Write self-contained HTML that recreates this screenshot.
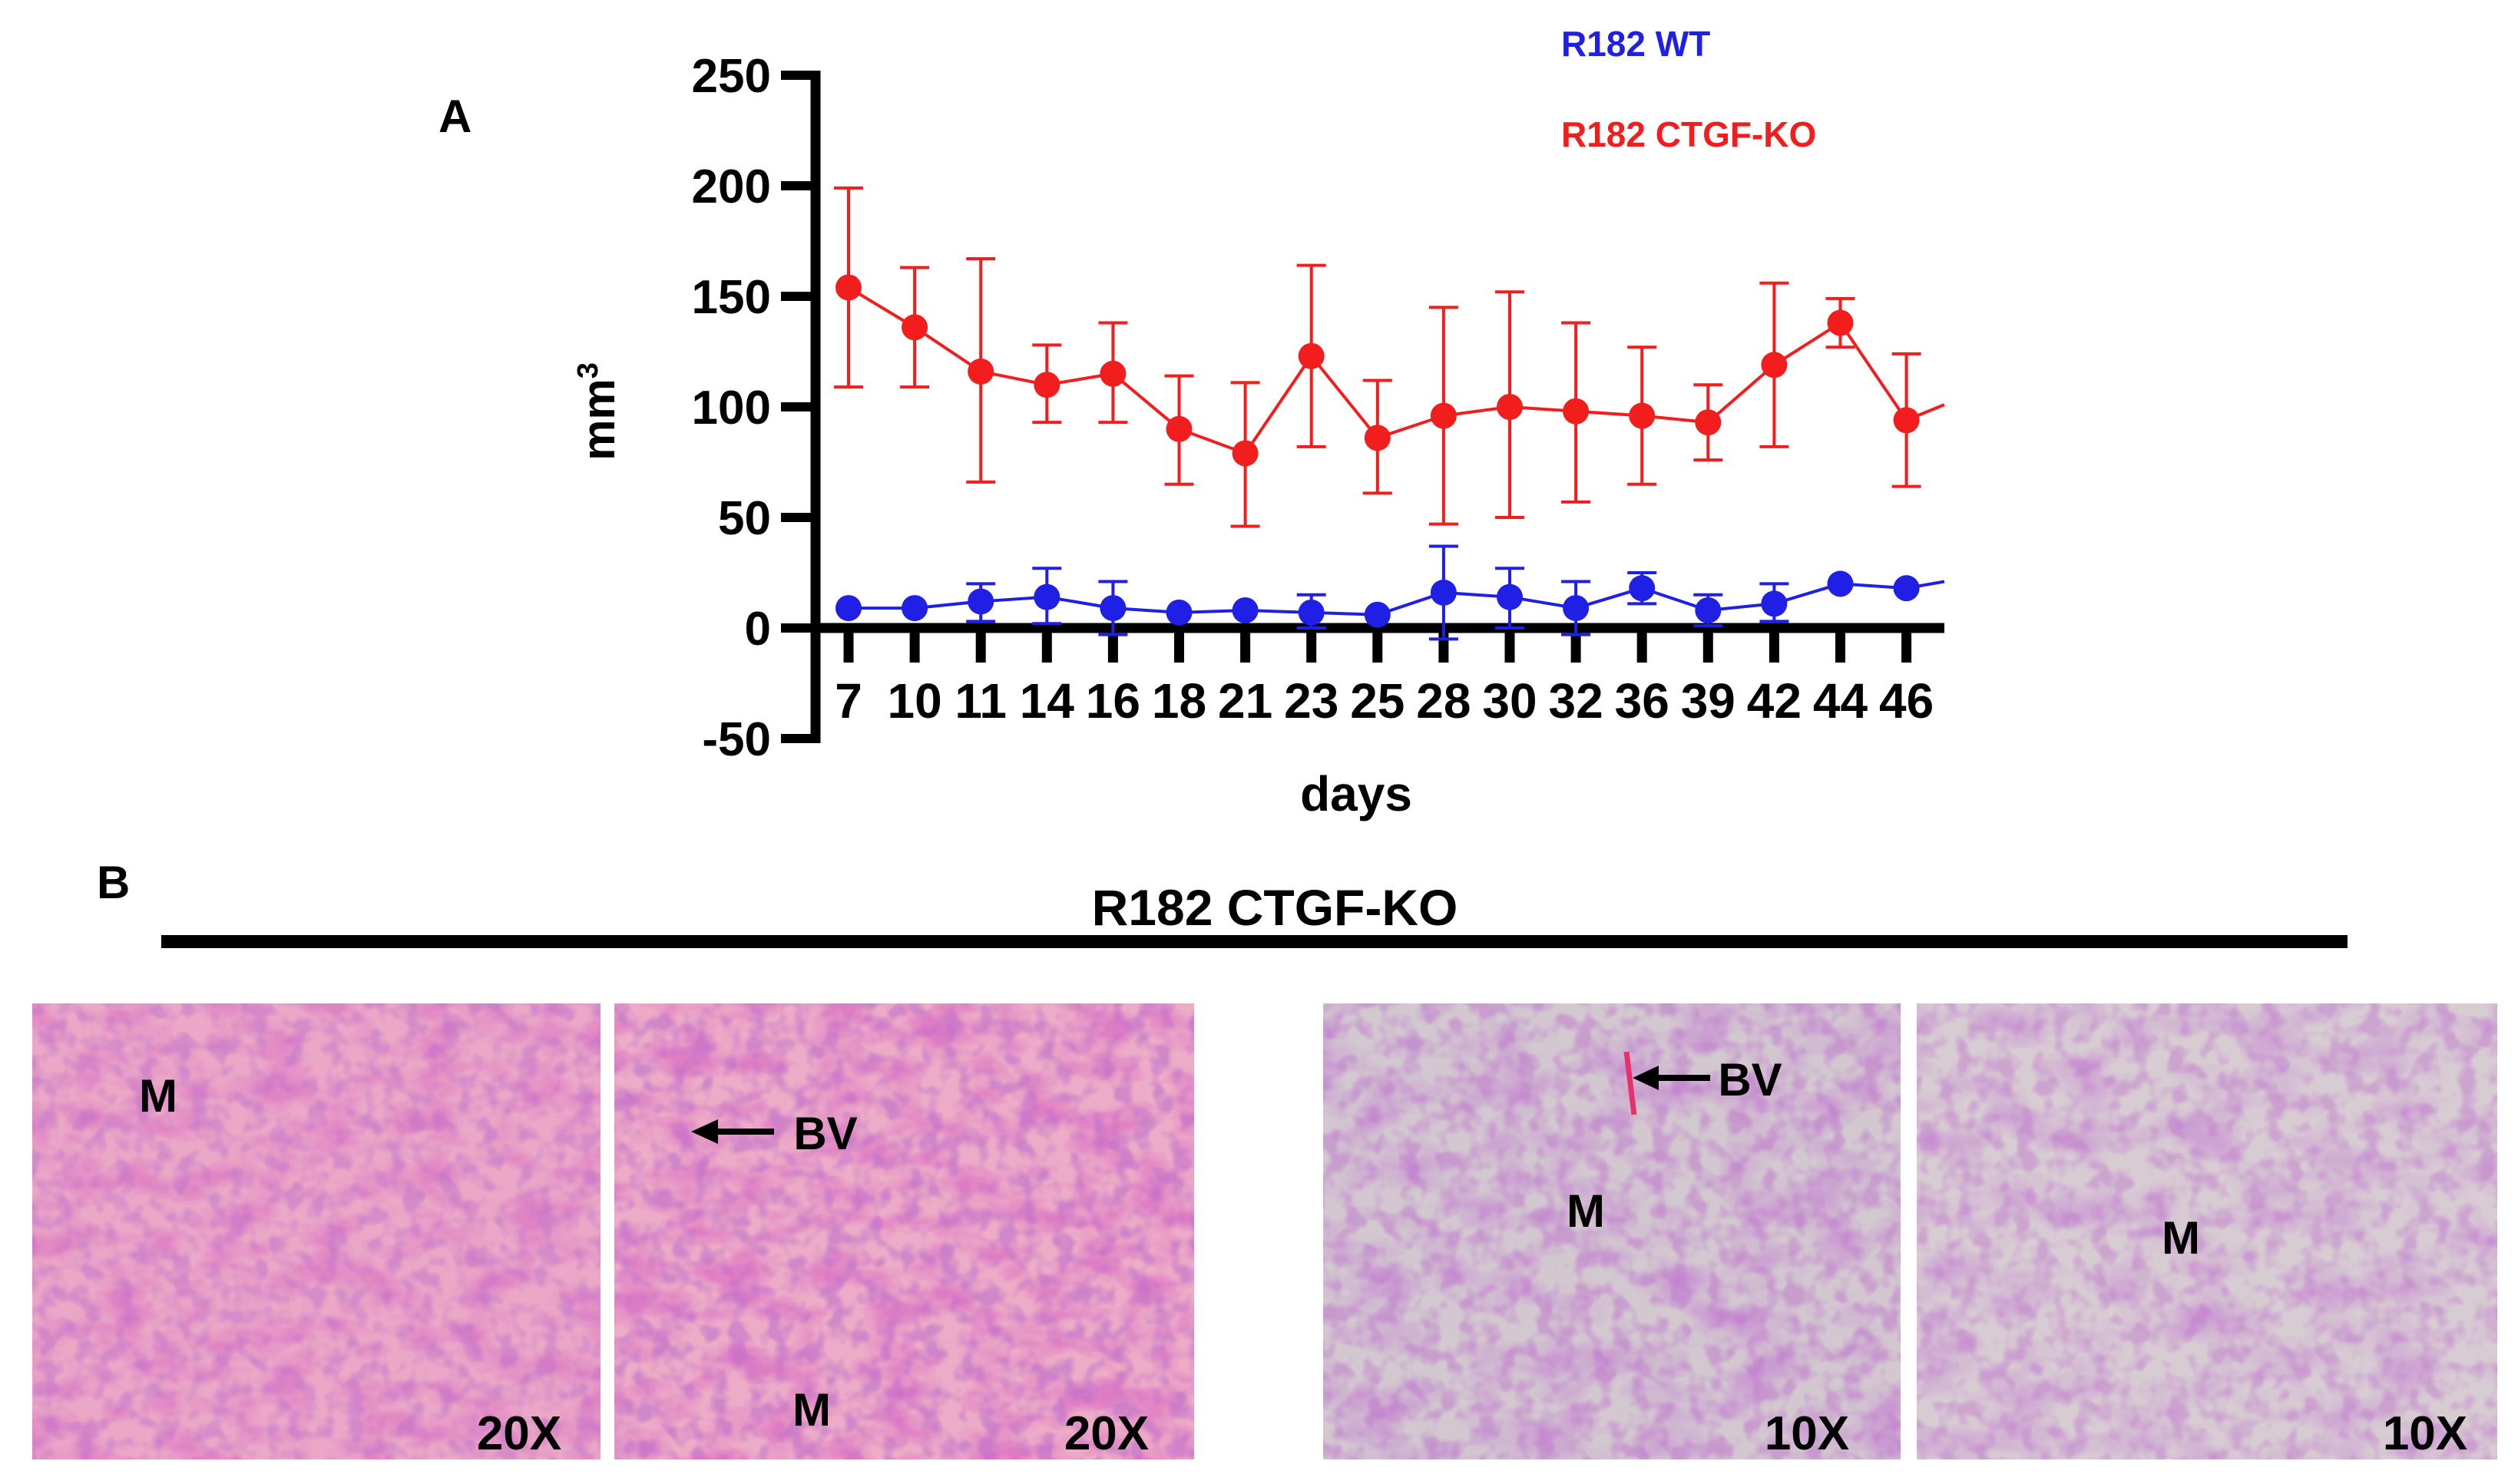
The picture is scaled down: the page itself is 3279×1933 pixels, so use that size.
<!DOCTYPE html>
<html><head><meta charset="utf-8"><style>
body{margin:0;background:#fff;}
svg{display:block;font-family:"Liberation Sans",Arial,sans-serif;font-weight:bold;}
</style></head><body>
<svg id="fig" width="3279" height="1933" viewBox="0 0 3279 1933" xmlns="http://www.w3.org/2000/svg">
<defs>
<filter id="texp" x="0" y="0" width="100%" height="100%"><feTurbulence type="fractalNoise" baseFrequency="0.015 0.025" numOctaves="3" seed="4"/><feColorMatrix type="matrix" values="0 0 0 0 0.72  0 0 0 0 0.18  0 0 0 0 0.55  0 0 0 -3 1.75"/></filter>
<filter id="tex" x="0" y="0" width="100%" height="100%"><feTurbulence type="fractalNoise" baseFrequency="0.012 0.02" numOctaves="3" seed="4"/><feColorMatrix type="matrix" values="0 0 0 0 0.55  0 0 0 0 0.2  0 0 0 0 0.65  0 0 0 -2.6 1.5"/></filter>
<filter id="tex2" x="0" y="0" width="100%" height="100%"><feTurbulence type="fractalNoise" baseFrequency="0.04" numOctaves="2" seed="9"/><feColorMatrix type="matrix" values="0 0 0 0 0.5  0 0 0 0 0.15  0 0 0 0 0.6  0 0 0 -4 2.2"/></filter>
</defs>
<text x="571" y="172" font-size="60">A</text>
<text x="2033" y="73" font-size="46" fill="#1f1fe6">R182 WT</text>
<text x="2033" y="191" font-size="46" fill="#f21d1d">R182 CTGF-KO</text>
<g id="chart"></g>
<text transform="translate(800,536) rotate(-90)" text-anchor="middle" font-size="60">mm<tspan font-size="38" dy="-22">3</tspan></text>
<text x="1766" y="1056" text-anchor="middle" font-size="64">days</text>

<text x="126" y="1170" font-size="60">B</text>
<text x="1660" y="1205" text-anchor="middle" font-size="66">R182 CTGF-KO</text>
<rect x="210" y="1218" width="2847" height="17" fill="#000"/>

<g>
<rect x="42" y="1307" width="740" height="594" fill="#eaa8c6"/>
<rect x="42" y="1307" width="740" height="594" filter="url(#texp)" opacity="0.7"/>
<rect x="42" y="1307" width="740" height="594" filter="url(#tex2)" opacity="0.45"/>
<text x="206" y="1448" text-anchor="middle" font-size="60">M</text>
<text x="676" y="1888" text-anchor="middle" font-size="62">20X</text>
</g>
<g>
<rect x="800" y="1307" width="755" height="594" fill="#ecabc6"/>
<rect x="800" y="1307" width="755" height="594" filter="url(#texp)" opacity="0.85"/>
<rect x="800" y="1307" width="755" height="594" filter="url(#tex2)" opacity="0.55"/>
<line x1="930" y1="1474" x2="1008" y2="1474" stroke="#000" stroke-width="8"/><polygon points="900,1474 935,1458 935,1490" fill="#000"/>
<text x="1075" y="1497" text-anchor="middle" font-size="60">BV</text>
<text x="1057" y="1857" text-anchor="middle" font-size="60">M</text>
<text x="1441" y="1888" text-anchor="middle" font-size="62">20X</text>
</g>
<g>
<rect x="1723" y="1307" width="752" height="594" fill="#d3c8d0"/>
<rect x="1723" y="1307" width="752" height="594" filter="url(#tex)" opacity="0.6"/>
<rect x="1723" y="1307" width="752" height="594" filter="url(#tex2)" opacity="0.45"/>
<line x1="2118" y1="1370" x2="2128" y2="1452" stroke="#e8306a" stroke-width="7"/>
<line x1="2155" y1="1404" x2="2227" y2="1404" stroke="#000" stroke-width="8"/><polygon points="2126,1404 2160,1388 2160,1420" fill="#000"/>
<text x="2279" y="1427" text-anchor="middle" font-size="60">BV</text>
<text x="2065" y="1598" text-anchor="middle" font-size="60">M</text>
<text x="2353" y="1888" text-anchor="middle" font-size="62">10X</text>
</g>
<g>
<rect x="2496" y="1307" width="756" height="594" fill="#d8ccd3"/>
<rect x="2496" y="1307" width="756" height="594" filter="url(#tex)" opacity="0.5"/>
<rect x="2496" y="1307" width="756" height="594" filter="url(#tex2)" opacity="0.4"/>
<text x="2840" y="1633" text-anchor="middle" font-size="60">M</text>
<text x="3158" y="1888" text-anchor="middle" font-size="62">10X</text>
</g>
</svg>
<script>
const days = ["7","10","11","14","16","18","21","23","25","28","30","32","36","39","42","44","46"];
const yTicks = [250,200,150,100,50,0,-50];
const koMean = [154,136,116,110,115,90,79,123,86,96,100,98,96,93,119,138,94];
const koUpper = [199,163,167,128,138,114,111,164,112,145,152,138,127,110,156,149,124];
const koLower = [109,109,66,93,93,65,46,82,61,47,50,57,65,76,82,127,64];
const koEnd = 101;
const wtMean = [9,9,12,14,9,7,8,7,6,16,14,9,18,8,11,20,18];
const wtUpper = [9,9,20,27,21,7,8,15,6,37,27,21,25,15,20,20,18];
const wtLower = [9,9,3,2,-3,7,8,0,6,-5,0,-3,11,1,3,20,18];
const wtEnd = 21;

const NS="http://www.w3.org/2000/svg";
const g=document.getElementById('chart');
const X0=1105, DX=86.1, AX=1062, XEND=2532;
function xs(i){return X0+DX*i;}
function ys(v){return 818-(v/50)*144;}
function mk(t,a){const e=document.createElementNS(NS,t);for(const k in a)e.setAttribute(k,a[k]);g.appendChild(e);return e;}

let ya=mk('line',{x1:AX,y1:ys(250)-6,x2:AX,y2:ys(-50)+6,stroke:'#000','stroke-width':13});


yTicks.forEach(v=>{
  let t=mk('line',{x1:1017,y1:ys(v),x2:AX,y2:ys(v),stroke:'#000','stroke-width':12});
  
  
  let l=mk('text',{x:1004,y:ys(v)+22,'text-anchor':'end','font-size':62});
  l.textContent=v;
  
  
});
let xa=mk('line',{x1:AX-6,y1:ys(0),x2:XEND,y2:ys(0),stroke:'#000','stroke-width':13});


days.forEach((d,i)=>{
  let t=mk('line',{x1:xs(i),y1:ys(0),x2:xs(i),y2:ys(0)+45,stroke:'#000','stroke-width':13});
  
  
  let l=mk('text',{x:xs(i),y:935,'text-anchor':'middle','font-size':64});
  l.textContent=d;
  
  
});

function series(mean,up,lo,end,color,name){
  let pts=mean.map((v,i)=>xs(i)+','+ys(v)).join(' ')+' '+XEND+','+ys(end);
  let pl=mk('polyline',{points:pts,fill:'none',stroke:color,'stroke-width':4});
  
  
  mean.forEach((v,i)=>{
    if(up[i]!==lo[i]){
      let e=mk('path',{d:`M${xs(i)},${ys(up[i])}V${ys(lo[i])}M${xs(i)-19},${ys(up[i])}h38M${xs(i)-19},${ys(lo[i])}h38`,stroke:color,'stroke-width':4,fill:'none'});
      
      
    }
    let c=mk('circle',{cx:xs(i),cy:ys(v),r:17,fill:color});
    
    
  });
}
series(koMean,koUpper,koLower,koEnd,'#f21d1d','ko');
series(wtMean,wtUpper,wtLower,wtEnd,'#1f1fe6','wt');
</script>
</body></html>
